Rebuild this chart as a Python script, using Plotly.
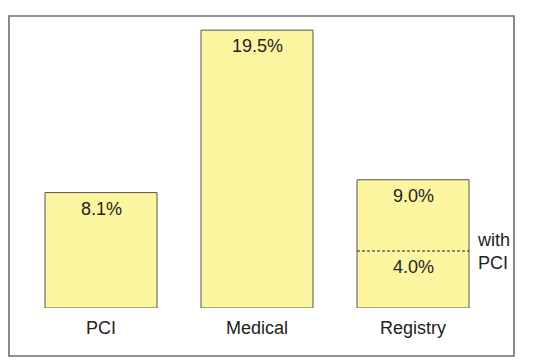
import plotly.graph_objects as go

categories = ["PCI", "Medical", "Registry"]
values = [8.1, 19.5, 9.0]
value_labels = ["8.1%", "19.5%", "9.0%"]
sub_value = 4.0
sub_label = "4.0%"
sub_note = "with<br>PCI"

# page body has an 8px margin, so the figure starts at (8, 8) of the window
OFF = 8
W, H = 550 - OFF, 364 - OFF
xpos = [0, 1, 2]
bar_w = 0.718
px_per_unit = 156
x0_px = 101 - OFF
base_px = 308 - OFF
top_px = 8 - OFF

fig = go.Figure()
fig.add_trace(go.Bar(
    x=xpos, y=values, width=bar_w,
    marker=dict(color="#FDF6A0", line=dict(color="#555555", width=1)),
    hoverinfo="skip",
))

font = dict(family="Liberation Sans, Arial, sans-serif", size=18, color="#222222")

for x, v, t in zip(xpos, values, value_labels):
    fig.add_annotation(x=x, y=v, text=t, showarrow=False, yanchor="middle",
                       yshift=-16, font=font)

# sub-value dashed line in Registry bar
fig.add_shape(type="line", xref="x", yref="y",
              x0=2 - bar_w / 2, x1=2 + bar_w / 2, y0=sub_value, y1=sub_value,
              line=dict(color="#222222", width=1.2, dash="3px,2px"))
fig.add_annotation(x=2, y=sub_value, text=sub_label, showarrow=False,
                   yanchor="middle", yshift=-16, font=font)
fig.add_annotation(x=2 + bar_w / 2, y=sub_value, text=sub_note, showarrow=False,
                   xanchor="left", yanchor="middle", xshift=6, align="left",
                   font=font)

# frame
fig.add_shape(type="rect", xref="paper", yref="paper",
              x0=(9 - OFF) / W, x1=(514 - OFF) / W,
              y0=(364 - 356) / H, y1=(364 - 8 - OFF) / H,
              line=dict(color="#6E6E6E", width=1.6), fillcolor="rgba(0,0,0,0)",
              layer="below")

fig.update_layout(
    width=W, height=H,
    margin=dict(l=0, r=0, t=0, b=0, autoexpand=False),
    paper_bgcolor="white", plot_bgcolor="rgba(0,0,0,0)",
    showlegend=False,
    font=font,
    xaxis=dict(range=[-x0_px / px_per_unit, (W - x0_px) / px_per_unit],
               tickvals=xpos, ticktext=categories,
               showgrid=False, zeroline=False, showline=False,
               ticks="outside", ticklen=3, tickcolor="rgba(0,0,0,0)",
               tickfont=font, fixedrange=True, automargin=False),
    yaxis=dict(domain=[(H - base_px) / H, 1.0],
               range=[0, (base_px - top_px) / 14.25],
               visible=False, fixedrange=True),
)

fig.write_html("out.html")
